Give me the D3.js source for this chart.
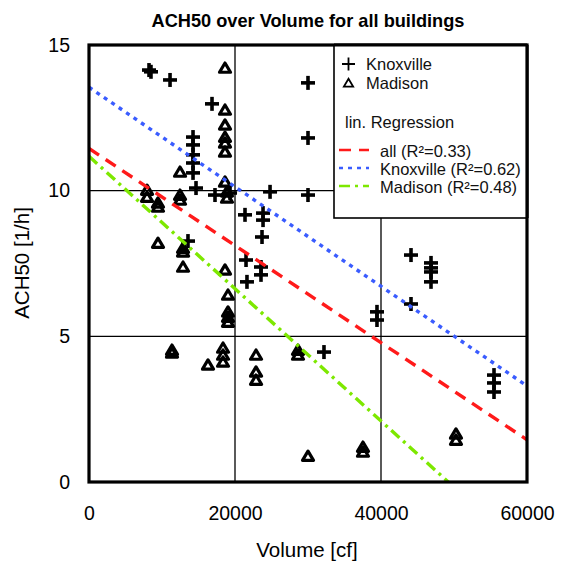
<!DOCTYPE html>
<html><head><meta charset="utf-8">
<script src="https://cdn.jsdelivr.net/npm/d3@7"></script>
<style>body{margin:0;background:#fff}svg{display:block}</style>
</head><body><svg id="c" width="562" height="563"></svg>
<script>
// ---- data ----
const title = "ACH50 over Volume for all buildings";
const xLabel = "Volume [cf]";
const yLabel = "ACH50 [1/h]";
const xTicks = [0, 20000, 40000, 60000];
const yTicks = [0, 5, 10, 15];

const knoxVolume = [8220, 8490, 11100, 16850, 14250, 14250, 14250, 14250, 14250, 14660, 17260, 19320,
  21370, 23840, 23840, 23700, 21510, 23560, 23560, 21640, 24800, 30000, 30000, 30000, 32190,
  44110, 46850, 46850, 46850, 46850, 44110, 39450, 39450, 55480, 55480, 55480, 13560];
const knoxACH = [14.14, 14.08, 13.80, 12.98, 11.84, 11.57, 11.23, 10.95, 10.61, 10.09, 9.85, 9.92,
  9.17, 9.23, 8.99, 8.41, 7.62, 7.38, 7.11, 6.87, 9.96, 9.85, 13.70, 11.81, 4.46,
  7.79, 7.52, 7.35, 7.21, 6.87, 6.11, 5.84, 5.56, 3.67, 3.40, 3.09, 8.27];

const madVolume = [18630, 18630, 18630, 18630, 18630, 18630, 18630, 18900, 18900, 12470, 12470, 12470,
  7950, 7950, 9450, 9450, 9450, 12880, 12880, 12880, 18630, 19040, 19040, 19040, 19040,
  11370, 11370, 16300, 18360, 18360, 18360, 22880, 22880, 22880, 28630, 28630, 30000,
  37530, 37530, 50270, 50270];
const madACH = [14.21, 12.77, 12.26, 11.84, 11.64, 11.33, 10.30, 9.96, 9.75, 10.64, 9.85, 9.68,
  10.02, 9.78, 9.58, 9.44, 8.20, 8.03, 7.90, 7.38, 7.28, 6.42, 5.84, 5.66, 5.49,
  4.53, 4.43, 4.02, 4.60, 4.36, 4.12, 4.36, 3.78, 3.50, 4.53, 4.36, 0.89,
  1.20, 1.03, 1.65, 1.44];

const regNames = ["all (R²=0.33)", "Knoxville (R²=0.62)", "Madison (R²=0.48)"];
const regAt0 = [11.45, 13.55, 11.18];      // fitted ACH50 at 0 cf
const regAt60000 = [1.45, 3.30, -2.45];    // fitted ACH50 at 60000 cf
const regColors = ["#ff1a1a", "#3a5cff", "#7de800"];
const regDash = ["12,8", "4,5", "11,5,3,5"];

// ---- chart ----
const svg = d3.select("#c");
const FONT = "'Liberation Sans', Arial, sans-serif";
const L = 89, R = 527, T = 45, B = 482;
const x = d3.scaleLinear().domain([0, 60000]).range([L, R]);
const y = d3.scaleLinear().domain([0, 15]).range([B, T]);

svg.append("rect").attr("width", 562).attr("height", 563).attr("fill", "#fff");

svg.append("text").attr("x", 308).attr("y", 27).attr("text-anchor", "middle")
  .attr("font-family", FONT).attr("font-weight", "bold").attr("font-size", 18.2).text(title);

// gridlines
const grid = svg.append("g").attr("stroke", "#000").attr("stroke-width", 1.3);
grid.selectAll("line.v").data(xTicks.slice(1, -1)).join("line")
  .attr("x1", d => x(d)).attr("x2", d => x(d)).attr("y1", T).attr("y2", B);
grid.selectAll("line.h").data(yTicks.slice(1, -1)).join("line")
  .attr("x1", L).attr("x2", R).attr("y1", d => y(d)).attr("y2", d => y(d));

// axes (labels only)
const xAxis = svg.append("g").attr("transform", `translate(0,${B})`)
  .call(d3.axisBottom(x).tickValues(xTicks).tickFormat(d3.format("d")).tickSize(0).tickPadding(24));
const yAxis = svg.append("g").attr("transform", `translate(${L},0)`)
  .call(d3.axisLeft(y).tickValues(yTicks).tickSize(0).tickPadding(19));
[xAxis, yAxis].forEach(a => {
  a.select(".domain").remove();
  a.selectAll("text").attr("font-family", FONT).attr("font-size", 19.5).attr("fill", "#000");
});

svg.append("text").attr("x", 307).attr("y", 557).attr("text-anchor", "middle")
  .attr("font-family", FONT).attr("font-size", 20.5).text(xLabel);
svg.append("text").attr("transform", "translate(29,263) rotate(-90)").attr("text-anchor", "middle")
  .attr("font-family", FONT).attr("font-size", 20.5).text(yLabel);

// clip
svg.append("clipPath").attr("id", "pc").append("rect")
  .attr("x", L).attr("y", T).attr("width", R - L).attr("height", B - T);
const plot = svg.append("g").attr("clip-path", "url(#pc)");

// markers
const tri = s => `M0,${-s}L${s * 1.1},${s * 0.85}L${-s * 1.1},${s * 0.85}Z`;
plot.append("g").selectAll("path").data(madVolume.map((v, i) => [v, madACH[i]])).join("path")
  .attr("transform", d => `translate(${x(d[0])},${y(d[1])})`)
  .attr("d", tri(5)).attr("fill", "none").attr("stroke", "#000").attr("stroke-width", 3.2)
  .attr("stroke-linejoin", "round");
const kg = plot.append("g").attr("stroke", "#000").attr("stroke-width", 3.6);
knoxVolume.forEach((v, i) => {
  const cx = x(v), cy = y(knoxACH[i]), h = 7;
  kg.append("line").attr("x1", cx - h).attr("x2", cx + h).attr("y1", cy).attr("y2", cy);
  kg.append("line").attr("x1", cx).attr("x2", cx).attr("y1", cy - h).attr("y2", cy + h);
});

// regression lines
plot.append("g").selectAll("line").data(regNames).join("line")
  .attr("x1", x(0)).attr("x2", x(60000))
  .attr("y1", (d, i) => y(regAt0[i])).attr("y2", (d, i) => y(regAt60000[i]))
  .attr("stroke", (d, i) => regColors[i]).attr("stroke-width", 3.4)
  .attr("stroke-dasharray", (d, i) => regDash[i]);

// frame
svg.append("rect").attr("x", L).attr("y", T).attr("width", R - L).attr("height", B - T)
  .attr("fill", "none").attr("stroke", "#000").attr("stroke-width", 3.2);

// legend
const lg = svg.append("g");
lg.append("rect").attr("x", 334).attr("y", T).attr("width", R - 334).attr("height", 218 - T)
  .attr("fill", "#fff").attr("stroke", "#000").attr("stroke-width", 1.6);
svg.append("line").attr("x1", 334).attr("x2", R).attr("y1", T).attr("y2", T).attr("stroke", "#000").attr("stroke-width", 3.2);
svg.append("line").attr("x1", R).attr("x2", R).attr("y1", T).attr("y2", 218).attr("stroke", "#000").attr("stroke-width", 3.2);

const lt = (tx, ty, s) => lg.append("text").attr("x", tx).attr("y", ty)
  .attr("font-family", FONT).attr("font-size", 16.5).attr("fill", "#111").text(s);
lg.append("path").attr("d", "M342,64H355M348.5,57.5V70.5").attr("stroke", "#000").attr("stroke-width", 1.8);
lg.append("path").attr("transform", "translate(348.5,83)").attr("d", tri(4.2))
  .attr("fill", "none").attr("stroke", "#000").attr("stroke-width", 1.8);
lt(366, 70, "Knoxville");
lt(366, 89, "Madison");
lt(345, 128, "lin. Regression");
regNames.forEach((n, i) => {
  const ly = 152 + i * 18;
  lg.append("line").attr("x1", 339).attr("x2", 369).attr("y1", ly - 2).attr("y2", ly - 2)
    .attr("stroke", regColors[i]).attr("stroke-width", 2.6).attr("stroke-dasharray", regDash[i]);
  lt(380, ly + 5, n);
});
</script></body></html>
